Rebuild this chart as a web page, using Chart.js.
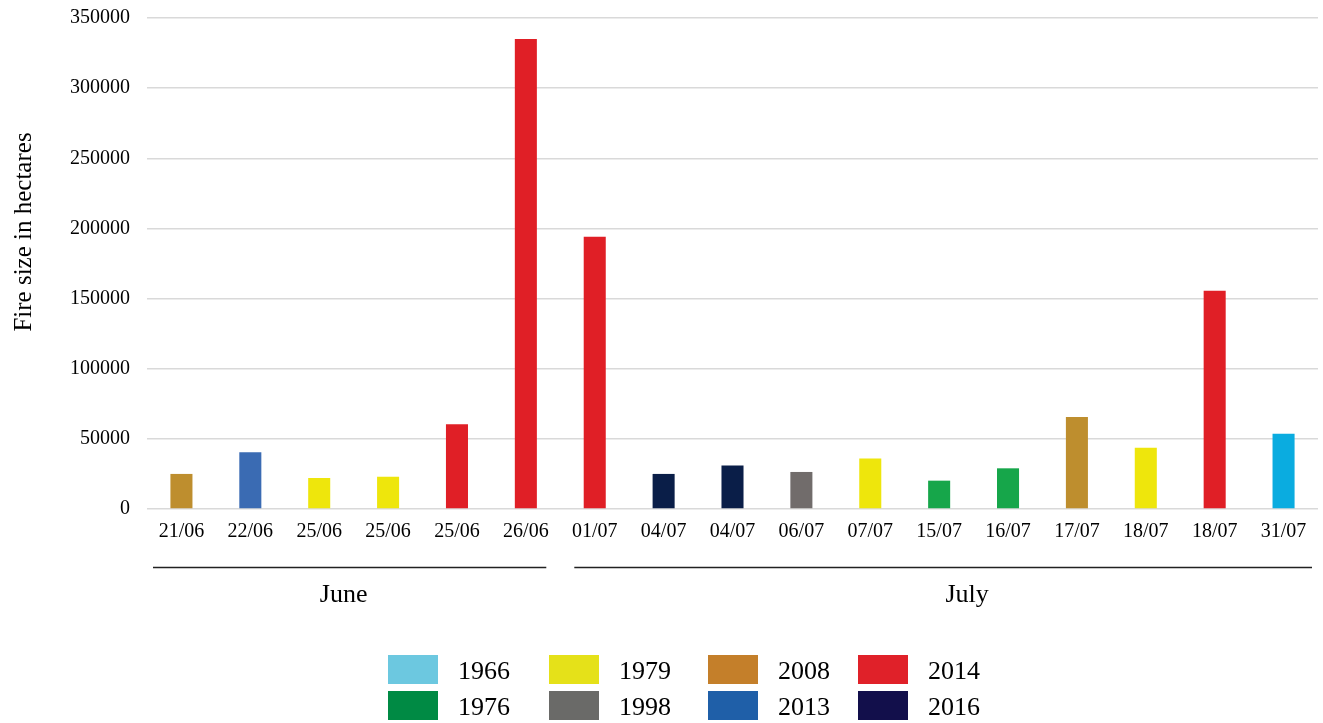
<!DOCTYPE html>
<html>
<head>
<meta charset="utf-8">
<script src="https://cdn.jsdelivr.net/npm/chart.js@4"></script>
<style>
  html, body { margin: 0; padding: 0; background: #fff; }
  #wrap { width: 1323px; height: 723px; }
</style>
</head>
<body>
<div id="wrap"><canvas id="myChart" width="1323" height="723"></canvas></div>
<script>
// Fire dates, sizes (ha) and the year each fire happened
const dates = ['21/06', '22/06', '25/06', '25/06', '25/06', '26/06', '01/07', '04/07', '04/07',
  '06/07', '07/07', '15/07', '16/07', '17/07', '18/07', '18/07', '31/07'];
const sizes = [25000, 40500, 22100, 23000, 60400, 335000, 194000, 25000, 31000,
  26400, 36000, 20200, 29000, 65600, 43600, 155500, 53700];
const fireYears = ['2008', '2013', '1979', '1979', '2014', '2014', '2014', '2016', '2016',
  '1998', '1979', '1976', '1976', '2008', '1979', '2014', '1966'];

// months grouping the dates: [label, first index, last index]
const months = [['June', 0, 5], ['July', 6, 16]];

const yearList = ['1966', '1976', '1979', '1998', '2008', '2013', '2014', '2016'];
const barColors = ['#0AACE0', '#16A64A', '#EEE60C', '#716C6B', '#BE8E2E', '#3A6BB3', '#E01F26', '#0A1E48'];
const keyColors = ['#6CC8E0', '#008A44', '#E5E119', '#6A6A68', '#C47F2A', '#1F5FA8', '#E02129', '#120F4B'];

const serif = '"Liberation Serif", "Times New Roman", serif';

const colorOf = y => barColors[yearList.indexOf(y)];

// month brackets, axis title and year key
const extras = {
  id: 'extras',
  afterDraw(chart) {
    const ctx = chart.ctx;
    const x = chart.scales.x;
    const half = (x.getPixelForValue(1) - x.getPixelForValue(0)) / 2;
    ctx.save();
    ctx.fillStyle = '#000';
    ctx.textBaseline = 'middle';

    // y axis title
    ctx.save();
    ctx.translate(24, 232);
    ctx.rotate(-Math.PI / 2);
    ctx.textAlign = 'center';
    ctx.font = '25px ' + serif;
    ctx.fillText('Fire size in hectares', 0, 0);
    ctx.restore();

    // month lines and labels
    const labelShift = [-6, 24];
    ctx.strokeStyle = '#222';
    ctx.lineWidth = 1.6;
    ctx.font = '26px ' + serif;
    ctx.textAlign = 'center';
    months.forEach(([name, a, b], i) => {
      const x0 = x.getPixelForValue(a) - half + (i === 0 ? 6 : 14);
      const x1 = x.getPixelForValue(b) + half - (i === 0 ? 14 : 6);
      ctx.beginPath();
      ctx.moveTo(x0, 567.5);
      ctx.lineTo(x1, 567.5);
      ctx.stroke();
      ctx.fillText(name, (x0 + x1) / 2 + labelShift[i], 595);
    });

    // year key, two rows per column
    const colX = [388, 549, 708, 858];
    const rowY = [655, 691];
    ctx.textAlign = 'left';
    yearList.forEach((yr, i) => {
      const cx = colX[Math.floor(i / 2)];
      const cy = rowY[i % 2];
      ctx.fillStyle = keyColors[i];
      ctx.fillRect(cx, cy, 50, 29);
      ctx.fillStyle = '#000';
      ctx.fillText(yr, cx + 70, cy + 17);
    });
    ctx.restore();
  }
};

new Chart(document.getElementById('myChart'), {
  type: 'bar',
  data: {
    labels: dates,
    datasets: [{
      label: 'Fire size',
      data: sizes,
      backgroundColor: fireYears.map(colorOf),
      borderWidth: 0,
      categoryPercentage: 1,
      barPercentage: 0.32
    }]
  },
  options: {
    responsive: false,
    animation: false,
    layout: { padding: { top: 18, right: 5, left: 0, bottom: 0 } },
    plugins: {
      legend: { display: false },
      tooltip: { enabled: false }
    },
    scales: {
      x: {
        grid: { display: false, drawTicks: false },
        border: { display: false },
        ticks: { color: '#000', padding: 11, font: { family: serif, size: 20 }, maxRotation: 0, autoSkip: false },
        afterFit(scale) { scale.height = 214; }
      },
      y: {
        min: 0,
        max: 350000,
        grid: { color: '#d9d9d9', lineWidth: 1.5, drawTicks: false },
        border: { display: false },
        ticks: {
          stepSize: 50000, color: '#000', padding: 17, font: { family: serif, size: 20 },
          callback: v => String(v)
        },
        afterFit(scale) {
          scale.width = 147;
          scale.paddingTop = 0;
          scale.paddingBottom = 0;
        }
      }
    }
  },
  plugins: [extras]
});
</script>
</body>
</html>
